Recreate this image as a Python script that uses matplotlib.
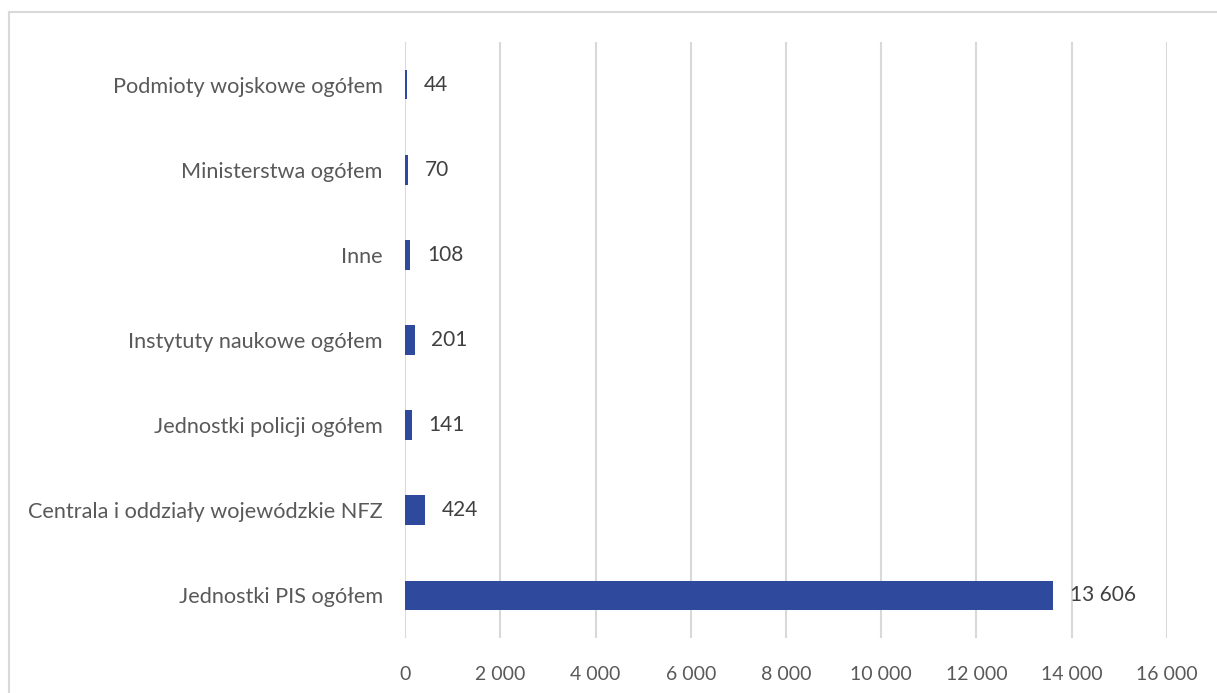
import matplotlib.pyplot as plt
from matplotlib.lines import Line2D
from matplotlib.ticker import FuncFormatter

categories = [
    "Jednostki PIS ogółem",
    "Centrala i oddziały wojewódzkie NFZ",
    "Jednostki policji ogółem",
    "Instytuty naukowe ogółem",
    "Inne",
    "Ministerstwa ogółem",
    "Podmioty wojskowe ogółem",
]
values = [13606, 424, 141, 201, 108, 70, 44]


def fmt(v):
    return f"{int(v):,}".replace(",", " ")


plt.rcParams["font.family"] = ["Lato", "DejaVu Sans"]

fig = plt.figure(figsize=(12.17, 6.93), dpi=100)
ax = fig.add_axes([0.3328, 0.0794, 0.6261, 0.86])

bars = ax.barh(range(len(categories)), values, height=0.35, color="#2F4A9C", zorder=3)
for b, v in zip(bars, values):
    ax.annotate(fmt(v), (b.get_width(), b.get_y() + b.get_height() / 2),
                xytext=(12, 0), textcoords="offset points",
                va="center", ha="left", fontsize=15, color="#404040")

ax.set_xlim(0, 16000)
ax.set_ylim(-0.5, len(categories) - 0.5)
ax.set_xticks(range(0, 16001, 2000))
ax.xaxis.set_major_formatter(FuncFormatter(lambda v, p: fmt(v)))
ax.set_yticks(range(len(categories)))
ax.set_yticklabels(categories)
ax.grid(axis="x", color="#d9d9d9", linewidth=1.5, zorder=0)
for s in ax.spines.values():
    s.set_visible(False)
ax.tick_params(axis="both", length=0, labelcolor="#595959")
ax.tick_params(axis="x", pad=20, labelsize=14)
ax.tick_params(axis="y", pad=16, labelsize=15.6)

# outer chart frame
fig.add_artist(Line2D([9 / 1217, 1], [1 - 12 / 693, 1 - 12 / 693], color="#d9d9d9", linewidth=1.5))
fig.add_artist(Line2D([9 / 1217, 9 / 1217], [0, 1 - 12 / 693], color="#d9d9d9", linewidth=1.5))

fig.savefig("out.png", dpi=100, facecolor="white")
